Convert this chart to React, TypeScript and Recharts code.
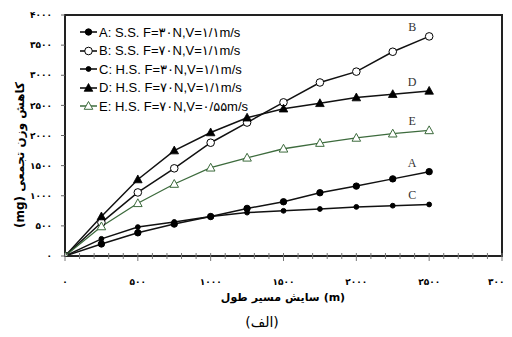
import React from 'react';
import { LineChart, Line, XAxis, YAxis, ReferenceArea } from 'recharts';

const distances = [0, 250, 500, 750, 1000, 1250, 1500, 1750, 2000, 2250, 2500];
const seriesA = [0, 200, 385, 530, 655, 790, 900, 1050, 1160, 1280, 1400];
const seriesB = [0, 555, 1055, 1455, 1880, 2215, 2550, 2880, 3060, 3390, 3645];
const seriesC = [0, 285, 480, 565, 655, 720, 750, 780, 815, 835, 855];
const seriesD = [0, 655, 1270, 1750, 2050, 2295, 2445, 2535, 2630, 2685, 2740];
const seriesE = [0, 490, 875, 1195, 1465, 1630, 1780, 1875, 1960, 2030, 2085];

const xTicks = [
  0, 100, 200, 300, 400, 500, 600, 700, 800, 900, 1000, 1100, 1200, 1300, 1400, 1500,
  1600, 1700, 1800, 1900, 2000, 2100, 2200, 2300, 2400, 2500, 2600, 2700, 2800, 2900, 3000,
];
const yTicks = [0, 500, 1000, 1500, 2000, 2500, 3000, 3500, 4000];

const legendNames = [
  'A: S.S. F=۳۰N,V=۱/۱m/s',
  'B: S.S. F=۷۰N,V=۱/۱m/s',
  'C: H.S. F=۳۰N,V=۱/۱m/s',
  'D: H.S. F=۷۰N,V=۱/۱m/s',
  'E: H.S. F=۷۰N,V=۰/۵۵m/s',
];
const endLabels = ['A', 'B', 'C', 'D', 'E'];
const xTitleWords = ['طول', 'مسیر', 'سایش', '(m)'];

const data = distances.map((d, i) => ({
  dist: d,
  A: seriesA[i],
  B: seriesB[i],
  C: seriesC[i],
  D: seriesD[i],
  E: seriesE[i],
}));

const toFa = (n: number) => String(n).replace(/\d/g, (c) => '۰۱۲۳۴۵۶۷۸۹'[+c]);

const GREEN = '#3d6b3d';

type Kind = 'A' | 'B' | 'C' | 'D' | 'E';

const Marker = ({ kind, cx, cy }: { kind: Kind; cx: number; cy: number }) => {
  if (kind === 'A') return <circle cx={cx} cy={cy} r={3.2} fill="#000" stroke="#000" />;
  if (kind === 'B') return <circle cx={cx} cy={cy} r={3.8} fill="#fff" stroke="#000" strokeWidth={1} />;
  if (kind === 'C') return <circle cx={cx} cy={cy} r={2.4} fill="#000" stroke="#000" />;
  const pts = `${cx},${cy - 4.5} ${cx - 4.3},${cy + 3.3} ${cx + 4.3},${cy + 3.3}`;
  if (kind === 'D') return <polygon points={pts} fill="#000" stroke="#000" strokeWidth={0.8} />;
  return <polygon points={pts} fill="#fff" stroke={GREEN} strokeWidth={1} />;
};

const makeDot = (kind: Kind) => (props: any) => {
  const { cx, cy, index } = props;
  if (cx == null || cy == null) return <g key={`${kind}-${index}`} />;
  return (
    <g key={`${kind}-${index}`}>
      <Marker kind={kind} cx={cx} cy={cy} />
    </g>
  );
};

const makeLabel = (kind: Kind) => (props: any) => {
  const { x, y, index } = props;
  if (index !== distances.length - 1) return <g key={`l-${kind}-${index}`} />;
  return (
    <text
      key={`l-${kind}-${index}`}
      x={x - 17}
      y={y - 5}
      textAnchor="middle"
      fontFamily="Liberation Serif, Times New Roman, serif"
      fontSize={12}
      fill="#333"
    >
      {kind}
    </text>
  );
};

const XTick = (props: any) => {
  const { x, y, payload } = props;
  const v = payload.value as number;
  const major = v % 500 === 0;
  const last = v === 3000;
  return (
    <g>
      <line x1={x} x2={x} y1={y - 3} y2={y + (major ? 5 : 3)} stroke="#777" strokeWidth={1} />
      {major && (
        <text
          x={last ? x - 3 : x}
          y={y + 23}
          dy="0.71em"
          textAnchor="middle"
          fontSize={9}
          fontWeight="bold"
          fill="#000"
          fontFamily="DejaVu Sans, sans-serif"
        >
          {toFa(v)}
        </text>
      )}
    </g>
  );
};

const tickStyle = {
  fontSize: 9,
  fontWeight: 'bold' as const,
  fill: '#000',
  fontFamily: 'DejaVu Sans, sans-serif',
};

export default function App() {
  const kinds: Kind[] = ['A', 'B', 'C', 'D', 'E'];
  return (
    <div style={{ position: 'relative', width: 504, height: 329 }}>
      <LineChart
        width={504}
        height={329}
        data={data}
        margin={{ top: 7, right: 10, bottom: 51, left: 0 }}
        style={{ overflow: 'visible' }}
      >
        <XAxis
          dataKey="dist"
          type="number"
          domain={[0, 3000]}
          ticks={xTicks}
          interval={0}
          tick={<XTick />}
          tickSize={0}
          tickMargin={0}
          tickLine={false}
          axisLine={{ stroke: '#222', strokeWidth: 2 }}
          height={30}
          allowDataOverflow
        />
        <YAxis
          type="number"
          domain={[0, 4000]}
          ticks={yTicks}
          interval={0}
          tickFormatter={toFa}
          tick={tickStyle}
          tickSize={4}
          tickMargin={9}
          axisLine={{ stroke: '#222', strokeWidth: 2 }}
          tickLine={{ stroke: '#666' }}
          width={57}
          allowDataOverflow
        />
        <ReferenceArea
          x1={0}
          x2={3000}
          y1={0}
          y2={4000}
          fill="none"
          stroke="#222"
          strokeWidth={2}
          ifOverflow="visible"
        />
        {kinds.map((k) => (
          <Line
            key={k}
            dataKey={k}
            type="linear"
            stroke={k === 'E' ? GREEN : '#111'}
            strokeWidth={k === 'E' ? 1.3 : 1.5}
            dot={makeDot(k)}
            activeDot={false}
            label={makeLabel(k)}
            isAnimationActive={false}
          />
        ))}
      </LineChart>
      <div
        style={{
          position: 'absolute',
          left: 72,
          top: 15,
          display: 'flex',
          flexDirection: 'column',
        }}
      >
        {endLabels.map((k, i) => (
          <div key={k} style={{ display: 'flex', alignItems: 'center', height: 18.5 }}>
            <svg width={17} height={12} style={{ marginRight: 2 }}>
              <line x1={0} y1={6} x2={17} y2={6} stroke={k === 'E' ? GREEN : '#000'} strokeWidth={1.5} />
              <Marker kind={k as Kind} cx={8.5} cy={6} />
            </svg>
            <span
              style={{
                fontFamily: 'Liberation Sans, Arial, DejaVu Sans, sans-serif',
                fontSize: 13,
                color: '#000',
                whiteSpace: 'nowrap',
              }}
            >
              {legendNames[i]}
            </span>
          </div>
        ))}
      </div>
      <div
        style={{
          position: 'absolute',
          left: 12,
          top: 147,
          transform: 'translate(-50%, -50%) rotate(-90deg)',
          whiteSpace: 'nowrap',
          fontFamily: 'DejaVu Sans, sans-serif',
          fontWeight: 'bold',
          fontSize: 12,
          direction: 'rtl',
        }}
      >
        کاهش وزن تجمعی (mg)
      </div>
      <div
        style={{
          position: 'absolute',
          left: 275,
          top: 289,
          transform: 'translate(-50%, -50%)',
          whiteSpace: 'nowrap',
          fontFamily: 'DejaVu Sans, sans-serif',
          fontWeight: 'bold',
          fontSize: 11,
          display: 'flex',
          gap: 4,
          direction: 'ltr',
        }}
      >
        {xTitleWords.map((w) => (
          <span key={w}>{w}</span>
        ))}
      </div>
      <div
        style={{
          position: 'absolute',
          left: 254,
          top: 314,
          transform: 'translate(-50%, -50%)',
          whiteSpace: 'nowrap',
          fontFamily: 'DejaVu Sans, sans-serif',
          fontSize: 14,
        }}
      >
        (الف)
      </div>
    </div>
  );
}
